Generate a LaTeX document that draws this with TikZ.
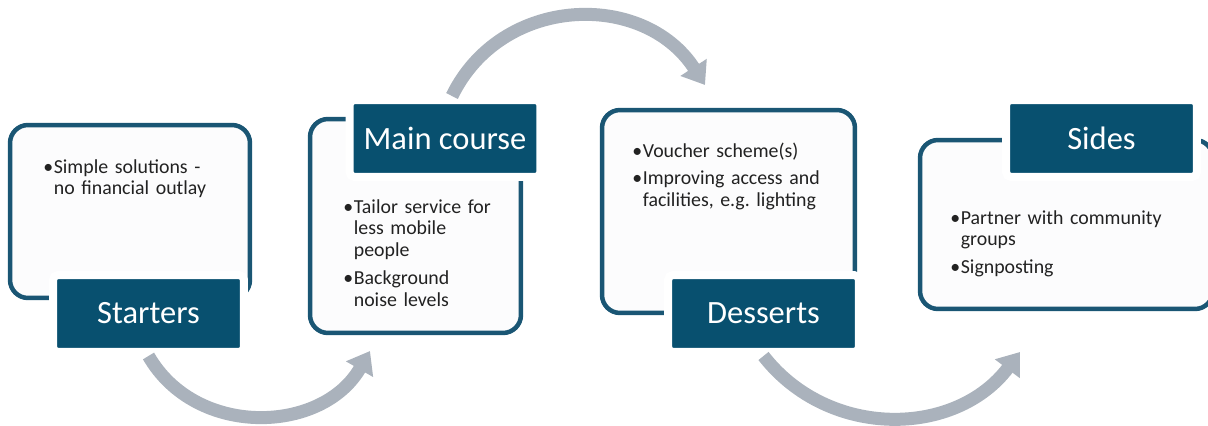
\documentclass[tikz,border=0pt]{standalone}
\usepackage{fontspec}
\setmainfont{Carlito}
\usepackage{tikz}
\usetikzlibrary{arrows.meta,positioning}

\definecolor{courseblue}{HTML}{08506F}
\definecolor{panelline}{HTML}{1A5674}
\definecolor{panelfill}{HTML}{FCFCFD}
\definecolor{loopgrey}{HTML}{AAB2BC}
\definecolor{itemtext}{HTML}{222222}

% bullet and hanging indent for the course notes
\newcommand{\blt}{\makebox[0.21cm][l]{\textbullet}}
\newcommand{\indt}{\hspace*{0.21cm}}

\tikzset{
    panel/.style ={draw=panelline, line width=0.09cm, rounded corners=0.36cm, fill=panelfill, inner sep=0},
    coursetag/.style ={draw=white, line width=0.16cm, fill=courseblue, rounded corners=0.1cm,
        text=white, font=\fontsize{18.5}{22}\selectfont, minimum width=3.82cm, minimum height=1.54cm, inner sep=0},
    notes/.style = {anchor=base west, align=left, inner sep=0, text width=6cm, text=itemtext,
        font=\fontsize{11.3}{12.5}\selectfont\frenchspacing},
    curvy/.style = {draw=loopgrey, line width=0.26cm, -{Triangle[length=0.42cm,width=0.6cm]}}
}

\begin{document}
\begin{tikzpicture}[x=0.02cm,y=-0.02cm]
  \useasboundingbox (0,0) rectangle (1208,426);
  \clip (0,0) rectangle (1208,426);

  % Draw the panels
  \node[panel, minimum width=4.8cm, minimum height=3.46cm] (p1) at (130,211.5) {};
  \node[panel, minimum width=4.22cm, minimum height=4.28cm] (p2) at (415.5,226) {};
  \node[panel, minimum width=5.06cm, minimum height=4.06cm] (p3) at (728.5,211.5) {};
  \node[panel, minimum width=5.86cm, minimum height=3.38cm] (p4) at (1066.5,224.5) {};

  % Draw the course tags
  \node[coursetag] (t1) at (148.5,313.5) {Starters};
  \node[coursetag] (t2) at (445,138.5) {Main course};
  \node[coursetag] (t3) at (763.5,313.5) {Desserts};
  \node[coursetag] (t4) at (1101.5,138.5) {Sides};

  % Draw the arrows
  \coordinate (e1) at (370,351);
  \coordinate (e2) at (705,85);
  \coordinate (e3) at (1020,352);
  \draw[curvy] (t1.south) to[out=-60, in=-120, looseness=1.1] (e1);
  \draw[curvy] ([xshift=0.14cm]t2.north) to[out=64, in=123, looseness=1.14] (e2);
  \draw[curvy] (t3.south) to[out=-52, in=-127, looseness=1.06] (e3);

  % Draw the notes
  \node[notes] (n1) at (43,173) {\blt Simple solutions -\\ \indt no financial outlay};
  \node[notes] (n2) at (343,213) {\blt Tailor service for\\ \indt less mobile\\ \indt people\\[3pt]
    \blt Background\\ \indt noise levels};
  \node[notes] (n3) at (632,157) {\blt Voucher scheme(s)\\[3pt] \blt Improving access and\\ \indt facilities, e.g. lighting};
  \node[notes] (n4) at (950,224) {\blt Partner with community\\ \indt groups\\[3pt] \blt Signposting};
\end{tikzpicture}
\end{document}
